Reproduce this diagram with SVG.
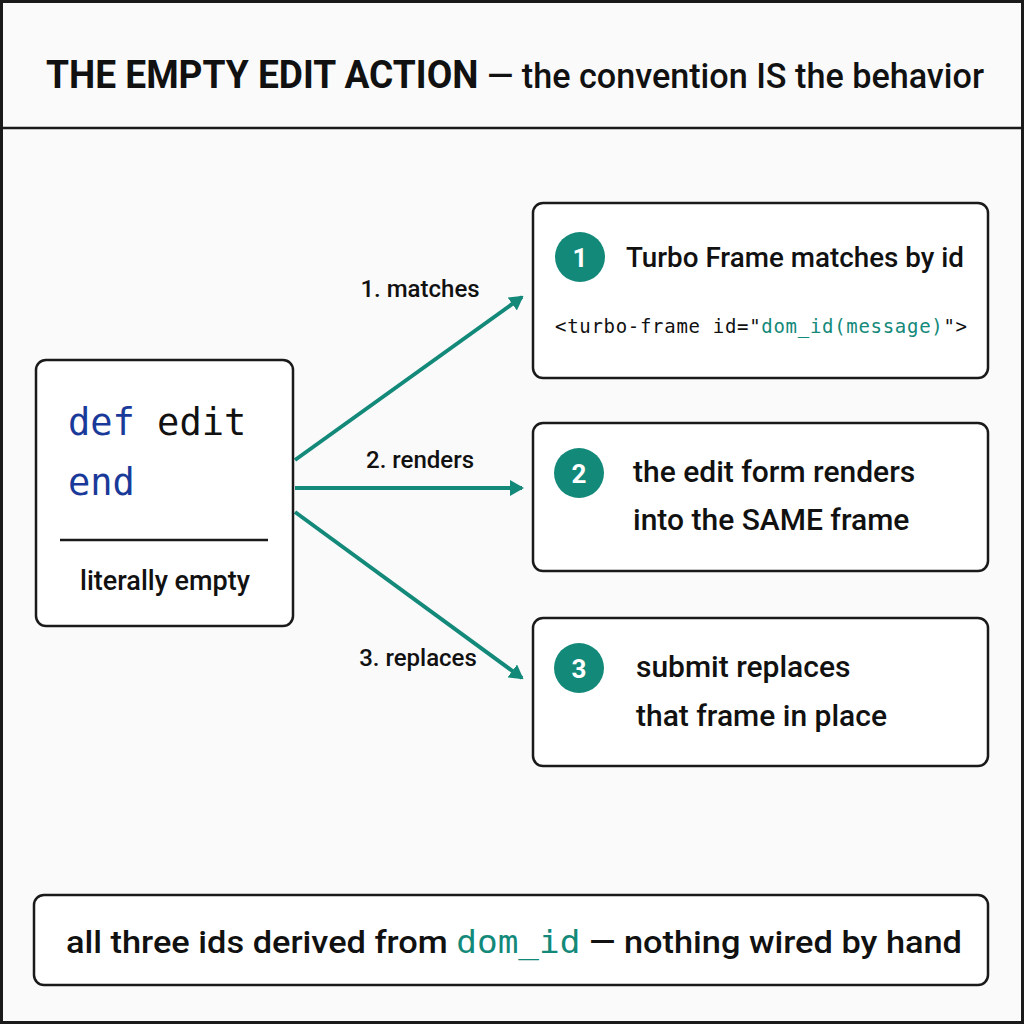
<svg xmlns="http://www.w3.org/2000/svg" width="1024" height="1024" viewBox="0 0 1024 1024">
<style>
.box{fill:#fff;stroke:#1a1a1a;stroke-width:2.5}
.t{font-family:Roboto,"Liberation Sans",sans-serif;font-weight:500;fill:#111}
.m{font-family:"DejaVu Sans Mono","Liberation Mono",monospace;fill:#111}
.c{fill:#13897a}
.n{font-family:Roboto,sans-serif;font-weight:700;fill:#fff;font-size:26px;text-anchor:middle}
.a{stroke:#13897a;stroke-width:4;fill:none;marker-end:url(#ah)}
</style>
<defs><marker id="ah" viewBox="-12 -8 14 16" refX="0" refY="0" markerWidth="14" markerHeight="16" orient="auto" markerUnits="userSpaceOnUse"><path d="M-12,-8L2,0L-12,8z" fill="#13897a"/></marker></defs>
<rect x="0" y="0" width="1024" height="1024" fill="#fafafa"/>
<rect x="1.5" y="1.5" width="1021" height="1021" fill="none" stroke="#1a1a1a" stroke-width="3"/>
<line x1="0" y1="128" x2="1024" y2="128" stroke="#1a1a1a" stroke-width="2.5"/>
<g id="title"><text x="515" y="88" text-anchor="middle" class="t" font-size="35" textLength="938" lengthAdjust="spacingAndGlyphs"><tspan font-weight="700" font-size="38">THE EMPTY EDIT ACTION</tspan> — the convention IS the behavior</text></g>
<g id="connectors">
<line class="a" x1="295" y1="460" x2="522" y2="297"/>
<line class="a" x1="295" y1="488" x2="522" y2="488"/>
<line class="a" x1="295" y1="512" x2="522" y2="678"/>
<text class="t" x="420" y="297" font-size="24" text-anchor="middle">1. matches</text>
<text class="t" x="420" y="468" font-size="24" text-anchor="middle">2. renders</text>
<text class="t" x="418" y="666" font-size="24" text-anchor="middle">3. replaces</text>
</g>
<g id="action">
<rect class="box" x="36" y="360" width="257" height="266" rx="10"/>
<text class="m" x="68" y="435" font-size="37" font-weight="500"><tspan style="fill:#1a3a9a">def</tspan> edit</text>
<text class="m" x="68" y="495" font-size="37" style="fill:#1a3a9a">end</text>
<line x1="60" y1="540" x2="268" y2="540" stroke="#1a1a1a" stroke-width="2.5"/>
<text class="t" x="165" y="590" font-size="27" text-anchor="middle">literally empty</text>
</g>
<g id="step1">
<rect class="box" x="533" y="203" width="455" height="175" rx="10"/>
<circle class="c" cx="580" cy="257" r="25"/><text class="n" x="580" y="267">1</text>
<text class="t" x="626" y="267" font-size="27" textLength="338" lengthAdjust="spacingAndGlyphs">Turbo Frame matches by id</text>
<text class="m" x="555" y="333" font-size="19" textLength="412">&lt;turbo-frame id="<tspan style="fill:#13897a">dom_id(message)</tspan>"&gt;</text>
</g>
<g id="step2">
<rect class="box" x="533" y="423" width="455" height="148" rx="10"/>
<circle class="c" cx="579" cy="473" r="25"/><text class="n" x="579" y="483">2</text>
<text class="t" x="633" y="482" font-size="30">the edit form renders</text>
<text class="t" x="633" y="530" font-size="30">into the SAME frame</text>
</g>
<g id="step3">
<rect class="box" x="533" y="618" width="455" height="148" rx="10"/>
<circle class="c" cx="579" cy="668" r="25"/><text class="n" x="579" y="678">3</text>
<text class="t" x="636" y="677" font-size="30">submit replaces</text>
<text class="t" x="636" y="726" font-size="30">that frame in place</text>
</g>
<g id="footer">
<rect class="box" x="34" y="895" width="954" height="90" rx="10"/>
<text class="t" x="514" y="953" font-size="32" text-anchor="middle" textLength="896" lengthAdjust="spacingAndGlyphs">all three ids derived from <tspan class="m" style="fill:#13897a" font-size="32">dom_id</tspan> — nothing wired by hand</text>
</g>
</svg>
